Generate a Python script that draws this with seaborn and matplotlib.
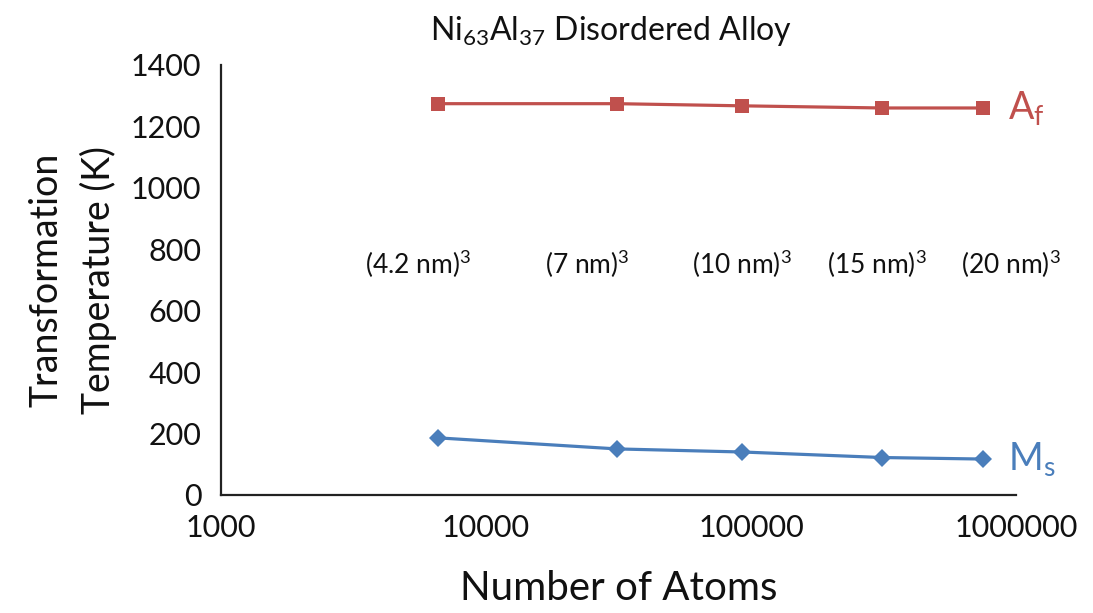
import matplotlib
matplotlib.use("Agg")
import matplotlib.pyplot as plt
from matplotlib.ticker import FixedLocator, FixedFormatter, LogLocator, NullFormatter
import seaborn as sns
import pandas as pd

# Simulated cube sizes and the resulting atom counts
atoms = [6600, 31200, 92500, 312000, 750000]
size_labels = ["(4.2 nm)$^3$", "(7 nm)$^3$", "(10 nm)$^3$", "(15 nm)$^3$", "(20 nm)$^3$"]
label_x = [5520, 24100, 92500, 298000, 955000]

# Transformation temperatures (K)
af_temp = [1274, 1274, 1267, 1260, 1260]
ms_temp = [186, 150, 140, 122, 117]

y_ticks = [0, 200, 400, 600, 800, 1000, 1200, 1400]
x_ticks = [1000, 10000, 100000, 1000000]
x_tick_labels = ["1000", "10000", "100000", "1000000"]

RED = "#C0504D"
BLUE = "#4A7EBB"

sns.set_theme(style="white")
plt.rcParams["font.family"] = ["Lato", "DejaVu Sans"]
plt.rcParams["mathtext.fontset"] = "custom"
plt.rcParams["mathtext.rm"] = "Lato"
plt.rcParams["mathtext.it"] = "Lato"

df = pd.DataFrame({"atoms": atoms, "Af": af_temp, "Ms": ms_temp})

fig = plt.figure(figsize=(10.93, 6.13), dpi=100)
ax = fig.add_axes([0.202, 0.1925, 0.728, 0.7015])

sns.lineplot(data=df, x="atoms", y="Af", ax=ax, color=RED, marker="s",
             markersize=10.5, markeredgewidth=0, linewidth=2.3)
sns.lineplot(data=df, x="atoms", y="Ms", ax=ax, color=BLUE, marker="D",
             markersize=9.5, markeredgewidth=0, linewidth=2.3)

ax.set_xscale("log")
ax.set_xlim(1000, 1000000)
ax.set_ylim(0, 1400)

ax.xaxis.set_major_locator(FixedLocator(x_ticks))
ax.xaxis.set_major_formatter(FixedFormatter(x_tick_labels))
ax.xaxis.set_minor_locator(LogLocator(base=10, subs=range(2, 10)))
ax.xaxis.set_minor_formatter(NullFormatter())
ax.set_yticks(y_ticks)

for side in ("top", "right"):
    ax.spines[side].set_visible(False)
for side in ("left", "bottom"):
    ax.spines[side].set_color("#222222")
    ax.spines[side].set_linewidth(1.6)

ax.tick_params(axis="x", which="major", direction="in", length=9, width=1.2,
               color="#888888", labelsize=22, pad=14, labelcolor="#111111")
ax.tick_params(axis="x", which="minor", direction="in", length=6, width=1.0,
               color="#aaaaaa")
ax.tick_params(axis="y", which="major", direction="in", length=7, width=1.0,
               color="#bbbbbb", labelsize=22, pad=14, labelcolor="#111111")

ax.set_xlabel("Number of Atoms", fontsize=29, labelpad=20, color="#111111")
ax.set_ylabel("Transformation\nTemperature (K)", fontsize=27, labelpad=10,
              color="#111111", linespacing=1.5)

ax.set_title(r"Ni$_{63}$Al$_{37}$ Disordered Alloy", fontsize=23, pad=18,
             color="#111111", x=0.49)

# Cube edge length above each simulated size
for lx, txt in zip(label_x, size_labels):
    ax.text(lx, 752, txt, fontsize=19, ha="center", va="center", color="#111111")

# Series names at the right end of each line
ax.annotate(r"A$_\mathrm{f}$", xy=(atoms[-1], af_temp[-1]), xytext=(18, 0),
            textcoords="offset points", fontsize=27, color=RED, va="center",
            annotation_clip=False)
ax.annotate(r"M$_\mathrm{s}$", xy=(atoms[-1], ms_temp[-1]), xytext=(18, 0),
            textcoords="offset points", fontsize=27, color=BLUE, va="center",
            annotation_clip=False)

fig.savefig("out.png", dpi=100, facecolor="white")
